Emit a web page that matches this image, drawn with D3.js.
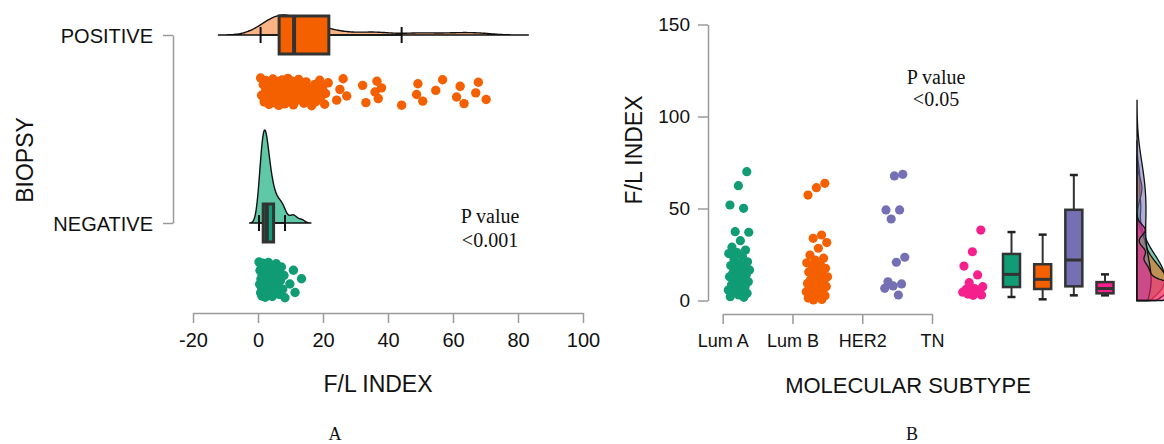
<!DOCTYPE html>
<html lang="en">
<head>
  <meta charset="UTF-8">
  <title>F/L index</title>
  <script src="https://d3js.org/d3.v7.min.js"></script>
  <style>
    body { margin: 0; background: #fff; }
    text { font-family: 'Liberation Sans', Arial, sans-serif; fill: #111; }
    .serif { font-family: 'Liberation Serif', 'Times New Roman', serif; }
  </style>
</head>
<body>
  <div class="canvas"></div>
  <script>
    // ---- panel A : biopsy ----
    const biopsyGroups = ['POSITIVE', 'NEGATIVE'];
    const positiveValues = [
      0.8, 1.1, 1.6, 1.9, 2.3, 2.4, 2.9, 3.1, 3.4, 3.8, 3.9, 4.2, 4.5, 4.6, 4.9, 5.2, 5.3, 5.7, 5.8, 6.0, 6.3, 6.4,
      6.6, 6.9, 7.0, 7.3, 7.4, 7.7, 7.9, 8.2, 8.3, 8.7, 8.8, 9.1, 9.2, 9.5, 9.7, 9.9, 10.1, 10.3, 10.5, 10.6, 10.9, 11.0,
      11.4, 11.8, 12.2, 12.5, 13.1, 13.4, 14.1, 14.3, 14.8, 15.5, 15.8, 16.5, 16.8, 17.5, 17.8, 18.3, 19.0, 19.3, 19.9, 20.5, 20.8, 21.6,
      24.2, 25.2, 26.2, 27.3, 32.2, 33.2, 36.0, 36.6, 37.0, 38.0, 44.2, 48.8, 49.2, 50.7, 54.7, 56.8, 61.1, 62.2, 63.4, 67.0, 67.8, 70.2
    ];
    const negativeValues = [
      0.3, 0.5, 0.6, 0.8, 0.9, 1.0, 1.1, 1.2, 1.2, 1.3, 1.4, 1.4, 1.5, 1.5, 1.6,
      1.7, 1.8, 1.9, 2.0, 2.0, 2.1, 2.2, 2.2, 2.3, 2.4, 2.4, 2.5, 2.5, 2.6, 2.7,
      2.8, 2.9, 3.0, 3.1, 3.2, 3.3, 3.4, 3.6, 3.7, 3.9, 4.0, 4.2, 4.4, 4.6, 4.8,
      5.0, 5.3, 5.6, 5.9, 6.2, 6.6, 6.9, 7.2, 7.6, 8.0, 8.3, 9.8, 10.9, 11.4, 13.4
    ];
    // [lower whisker, q1, median, q3, upper whisker]
    const positiveBox = [0.8, 6.5, 11.1, 21.8, 44.2];
    const negativeBox = [0.3, 1.6, 2.7, 4.8, 8.3];
    const xTicksA = [-20, 0, 20, 40, 60, 80, 100];

    // ---- panel B : molecular subtype ----
    const subtypes = ['Lum A', 'Lum B', 'HER2', 'TN'];
    const lumA = [70, 62.4, 51.9, 50.1, 37.4, 37.1, 32.5, 29, 27.4, 26, 25.5, 24, 22.5, 21, 20, 19, 18.4, 17.5, 16.6,
      15.5, 14.8, 14, 13.9, 12.9, 12, 11.1, 10.2, 9.3, 8.5, 7.5, 6.6, 5.7, 5, 4.3, 3.9, 3, 2.1, 1.7];
    const lumB = [63.7, 61.3, 57.3, 35.6, 33.8, 31.5, 28.4, 24.7, 23, 22, 20.5, 19.5, 18.4, 17.5, 16.6, 15.5, 14.5, 13.9,
      12.9, 12.2, 11.5, 11, 10.3, 9.3, 8.8, 8.4, 7.6, 7, 6.3, 5.7, 5.2, 4.8, 4, 3.3, 2.6, 2, 1.3, 0.6, 0.3];
    const her2 = [68.6, 67.7, 49.2, 49.2, 44.3, 23.5, 20.8, 10.2, 9, 7.9, 6.6, 3];
    const tn = [38.3, 26.5, 18.7, 13.9, 9.7, 7.5, 6.5, 6, 5.7, 4.8, 4.5, 4, 3.5, 3, 2.8];
    const subtypeValues = [lumA, lumB, her2, tn];
    const subtypeBoxes = [
      [1.9, 7.3, 14.2, 25.3, 37.2],
      [0.65, 6.25, 11.5, 19.7, 35.8],
      [2.8, 7.7, 22, 49.3, 68.2],
      [2.8, 3.9, 6.5, 10, 14.2]
    ];
    const yTicksB = [0, 50, 100, 150];

    const orange = '#f46000', green = '#109c74';
    const colorsB = [green, orange, '#7570b3', '#f5208b'];

    const width = 1164, height = 444;
    const svg = d3.select('.canvas').append('svg')
      .attr('width', width).attr('height', height);

    // helpers
    const jitter = i => ((i * 0.6180339887) % 1) - 0.5;
    function nrd0(v) {
      const s = v.slice().sort(d3.ascending);
      const iqr = d3.quantile(s, 0.75) - d3.quantile(s, 0.25);
      return 0.9 * Math.min(d3.deviation(s), iqr / 1.34) * Math.pow(s.length, -0.2);
    }
    function kde(v, lo) {
      const bw = nrd0(v);
      const a = lo === undefined ? d3.min(v) - 3 * bw : Math.max(lo, d3.min(v) - 3 * bw);
      const b = d3.max(v) + 3 * bw;
      return d3.range(0, 201).map(i => {
        const t = a + (b - a) * i / 200;
        const d = d3.mean(v, x => Math.exp(-0.5 * ((t - x) / bw) ** 2)) / (bw * Math.sqrt(2 * Math.PI));
        return [t, d];
      });
    }
    function styleAxis(g, size) {
      g.select('.domain').attr('stroke', '#9a9a9a').attr('stroke-width', 1.5);
      g.selectAll('.tick line').attr('stroke', '#9a9a9a').attr('stroke-width', 1.5);
      g.selectAll('.tick text').style('font-size', size + 'px').attr('fill', '#111');
    }

    // ================= PANEL A =================
    const xA = d3.scaleLinear().domain([-20, 100]).range([193, 583]);
    const yA = d3.scalePoint().domain(biopsyGroups).range([35, 223]);
    const dotCenterA = { POSITIVE: 92, NEGATIVE: 280 };
    const dotSpreadA = { POSITIVE: 28, NEGATIVE: 36 };
    const dataA = [
      { key: 'POSITIVE', values: positiveValues, box: positiveBox, fill: orange, light: '#fab385' },
      { key: 'NEGATIVE', values: negativeValues, box: negativeBox, fill: green, light: '#5fc9a7' }
    ];

    const densA = dataA.map(g => kde(g.values));
    const kA = 93 / d3.max(densA[1], d => d[1]);

    const gA = svg.append('g');
    dataA.forEach((g, gi) => {
      const base = yA(g.key);
      const area = d3.area().x(d => xA(d[0])).y0(base).y1(d => base - kA * d[1]).curve(d3.curveBasis);
      gA.append('path').attr('d', area(densA[gi]))
        .attr('fill', g.light).attr('stroke', '#111').attr('stroke-width', 1.4);

      // whiskers + caps
      gA.append('line').attr('x1', xA(g.box[0])).attr('x2', xA(g.box[4]))
        .attr('y1', base).attr('y2', base).attr('stroke', '#111').attr('stroke-width', 1.5);
      [g.box[0], g.box[4]].forEach(v => {
        gA.append('line').attr('x1', xA(v)).attr('x2', xA(v))
          .attr('y1', base - 8).attr('y2', base + 8).attr('stroke', '#111').attr('stroke-width', 2);
      });
      gA.append('rect').attr('x', xA(g.box[1])).attr('width', xA(g.box[3]) - xA(g.box[1]))
        .attr('y', base - 19).attr('height', 38)
        .attr('fill', g.fill).attr('stroke', '#333').attr('stroke-width', 3);
      gA.append('line').attr('x1', xA(g.box[2])).attr('x2', xA(g.box[2]))
        .attr('y1', base - 19).attr('y2', base + 19).attr('stroke', '#333').attr('stroke-width', 4);

      gA.selectAll(null).data(g.values).enter().append('circle')
        .attr('cx', d => xA(d))
        .attr('cy', (d, i) => dotCenterA[g.key] + jitter(i) * dotSpreadA[g.key])
        .attr('r', 4.7).attr('fill', g.fill);
    });

    const xAxisA = svg.append('g').attr('transform', 'translate(0,313)')
      .call(d3.axisBottom(xA).tickValues(xTicksA).tickFormat(d => String(d))
        .tickSize(10).tickSizeOuter(0).tickPadding(10));
    styleAxis(xAxisA, 20);
    const yAxisA = svg.append('g').attr('transform', 'translate(173,0)')
      .call(d3.axisLeft(yA).tickSize(10).tickSizeOuter(0).tickPadding(10));
    styleAxis(yAxisA, 20);
    yAxisA.selectAll('.tick text').attr('dy', '0.38em');

    svg.append('text').attr('x', 378).attr('y', 392).attr('text-anchor', 'middle')
      .style('font-size', '23px').text('F/L INDEX');
    svg.append('text').attr('transform', 'translate(33,160) rotate(-90)').attr('text-anchor', 'middle')
      .style('font-size', '23px').text('BIOPSY');
    svg.append('text').attr('class', 'serif').attr('x', 490).attr('y', 223).attr('text-anchor', 'middle')
      .style('font-size', '20px').text('P value');
    svg.append('text').attr('class', 'serif').attr('x', 490).attr('y', 247).attr('text-anchor', 'middle')
      .style('font-size', '20px').text('<0.001');
    svg.append('text').attr('class', 'serif').attr('x', 335).attr('y', 440).attr('text-anchor', 'middle')
      .style('font-size', '18px').text('A');

    // ================= PANEL B =================
    const yB = d3.scaleLinear().domain([0, 150]).range([300.5, 24.5]);
    const xAxisScaleB = d3.scalePoint().domain(subtypes).range([722.7, 932]);
    const xDotsB = d3.scalePoint().domain(subtypes).range([739, 973]);
    const xBoxB = d3.scalePoint().domain(subtypes).range([1011.5, 1105]);
    const densBaseB = 1137;

    const gB = svg.append('g');
    subtypes.forEach((s, si) => {
      gB.selectAll(null).data(subtypeValues[si]).enter().append('circle')
        .attr('cx', (d, i) => xDotsB(s) + jitter(i + 3) * 22)
        .attr('cy', d => yB(d))
        .attr('r', 4.6).attr('fill', colorsB[si]);
    });

    subtypes.forEach((s, si) => {
      const b = subtypeBoxes[si], cx = xBoxB(s), hw = 8.5;
      gB.append('line').attr('x1', cx).attr('x2', cx).attr('y1', yB(b[0])).attr('y2', yB(b[4]))
        .attr('stroke', '#333').attr('stroke-width', 2);
      [b[0], b[4]].forEach(v => {
        gB.append('line').attr('x1', cx - 4).attr('x2', cx + 4).attr('y1', yB(v)).attr('y2', yB(v))
          .attr('stroke', '#222').attr('stroke-width', 2.5);
      });
      gB.append('rect').attr('x', cx - hw).attr('width', 2 * hw)
        .attr('y', yB(b[3])).attr('height', yB(b[1]) - yB(b[3]))
        .attr('fill', colorsB[si]).attr('stroke', '#333').attr('stroke-width', 2.5);
      gB.append('line').attr('x1', cx - hw).attr('x2', cx + hw).attr('y1', yB(b[2])).attr('y2', yB(b[2]))
        .attr('stroke', '#333').attr('stroke-width', 3);
    });

    const densB = subtypeValues.map(v => kde(v, 0));
    const kB = 75 / d3.max(densB[3], d => d[1]);
    subtypes.forEach((s, si) => {
      const area = d3.area().y(d => yB(d[0])).x0(densBaseB).x1(d => densBaseB + kB * d[1]).curve(d3.curveBasis);
      gB.append('path').attr('d', area(densB[si]))
        .attr('fill', colorsB[si]).attr('fill-opacity', 0.55)
        .attr('stroke', '#111').attr('stroke-width', 1.3);
    });

    const yAxisB = svg.append('g').attr('transform', 'translate(708,0)')
      .call(d3.axisLeft(yB).tickValues(yTicksB).tickSize(10).tickSizeOuter(0).tickPadding(8));
    styleAxis(yAxisB, 19);
    const xAxisB = svg.append('g').attr('transform', 'translate(0,314)')
      .call(d3.axisBottom(xAxisScaleB).tickSize(10).tickSizeOuter(0).tickPadding(10));
    styleAxis(xAxisB, 18);

    svg.append('text').attr('transform', 'translate(642,150) rotate(-90)').attr('text-anchor', 'middle')
      .style('font-size', '23px').text('F/L INDEX');
    svg.append('text').attr('x', 908).attr('y', 393).attr('text-anchor', 'middle')
      .style('font-size', '22px').text('MOLECULAR SUBTYPE');
    svg.append('text').attr('class', 'serif').attr('x', 936).attr('y', 84).attr('text-anchor', 'middle')
      .style('font-size', '20px').text('P value');
    svg.append('text').attr('class', 'serif').attr('x', 936).attr('y', 106).attr('text-anchor', 'middle')
      .style('font-size', '20px').text('<0.05');
    svg.append('text').attr('class', 'serif').attr('x', 912).attr('y', 440).attr('text-anchor', 'middle')
      .style('font-size', '18px').text('B');
  </script>
</body>
</html>
